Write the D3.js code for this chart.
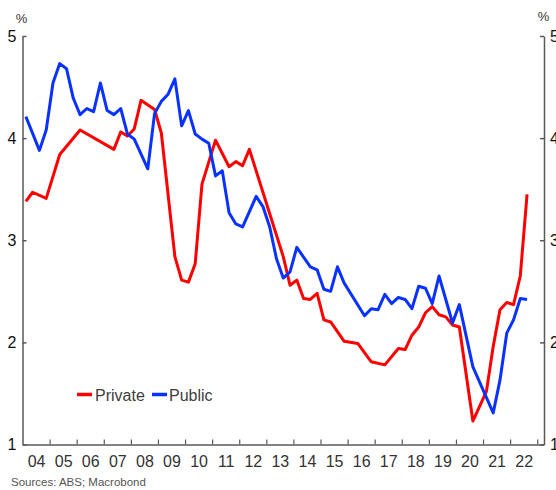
<!DOCTYPE html>
<html>
<head>
<meta charset="utf-8">
<script src="https://cdn.jsdelivr.net/npm/d3@7"></script>
<style>
  html, body { margin: 0; padding: 0; background: #fff; }
  svg { display: block; font-family: "Liberation Sans", Arial, sans-serif; }
</style>
</head>
<body>
<svg id="chart" width="556" height="490"></svg>
<script>
// ---- Data (quarterly, vertices) ----
const privateQuarters = ["2004Q1","2004Q2","2004Q4","2005Q2","2006Q1","2007Q2","2007Q3","2007Q4","2008Q1","2008Q2","2008Q4","2009Q1","2009Q3","2009Q4","2010Q1","2010Q2","2010Q3","2011Q1","2011Q3","2011Q4","2012Q1","2012Q2","2013Q3","2013Q4","2014Q1","2014Q2","2014Q3","2014Q4","2015Q1","2015Q2","2015Q4","2016Q2","2016Q4","2017Q2","2017Q4","2018Q1","2018Q2","2018Q3","2018Q4","2019Q1","2019Q2","2019Q3","2019Q4","2020Q1","2020Q3","2021Q1","2021Q2","2021Q3","2021Q4","2022Q1","2022Q2","2022Q3"];
const privateValues = [3.38,3.47,3.41,3.84,4.08,3.89,4.06,4.02,4.09,4.37,4.28,4.05,2.84,2.61,2.59,2.77,3.55,3.98,3.72,3.77,3.73,3.89,2.84,2.56,2.61,2.43,2.42,2.48,2.22,2.20,2.01,1.99,1.81,1.78,1.94,1.93,2.07,2.15,2.29,2.35,2.27,2.25,2.17,2.15,1.23,1.52,1.96,2.32,2.39,2.37,2.65,3.45];

const publicQuarters = ["2004Q1","2004Q3","2004Q4","2005Q1","2005Q2","2005Q3","2005Q4","2006Q1","2006Q2","2006Q3","2006Q4","2007Q1","2007Q2","2007Q3","2007Q4","2008Q1","2008Q3","2008Q4","2009Q1","2009Q2","2009Q3","2009Q4","2010Q1","2010Q2","2010Q3","2010Q4","2011Q1","2011Q2","2011Q3","2011Q4","2012Q1","2012Q3","2012Q4","2013Q1","2013Q2","2013Q3","2013Q4","2014Q1","2014Q3","2014Q4","2015Q1","2015Q2","2015Q3","2015Q4","2016Q3","2016Q4","2017Q1","2017Q2","2017Q3","2017Q4","2018Q1","2018Q2","2018Q3","2018Q4","2019Q1","2019Q2","2019Q4","2020Q1","2020Q3","2021Q2","2021Q3","2021Q4","2022Q1","2022Q2","2022Q3"];
const publicValues = [4.21,3.88,4.08,4.54,4.73,4.68,4.39,4.23,4.29,4.26,4.54,4.27,4.23,4.29,4.04,3.99,3.70,4.24,4.36,4.43,4.58,4.12,4.27,4.04,3.99,3.95,3.63,3.68,3.27,3.16,3.13,3.43,3.33,3.13,2.82,2.63,2.69,2.93,2.74,2.71,2.52,2.50,2.74,2.58,2.26,2.33,2.32,2.47,2.38,2.44,2.42,2.33,2.55,2.53,2.38,2.65,2.19,2.37,1.76,1.31,1.63,2.09,2.22,2.43,2.42];

const yTicks = [1, 2, 3, 4, 5];
const yearTickLabels = ["04","05","06","07","08","09","10","11","12","13","14","15","16","17","18","19","20","21","22"];
const seriesNames = ["Private", "Public"];
const seriesColors = ["#ff0000", "#0a32ff"];
const sourceText = "Sources: ABS; Macrobond";

// ---- helpers ----
function qToYear(q) {
  const yr = +q.slice(0, 4), n = +q.slice(5);
  return yr + (n - 1) * 0.25 + 0.125;
}
const privateData = privateQuarters.map((q, i) => ({ t: qToYear(q), v: privateValues[i] }));
const publicData = publicQuarters.map((q, i) => ({ t: qToYear(q), v: publicValues[i] }));

const svg = d3.select("#chart");
const x = d3.scaleLinear().domain([2004, 2023.25]).range([22.5, 544]);
const y = d3.scaleLinear().domain([1, 5]).range([444.5, 36]);
const axisColor = "#595959";

// Left axis
const gl = svg.append("g").attr("transform", `translate(${x.range()[0]},0)`)
  .call(d3.axisLeft(y).tickValues(yTicks).tickSize(-4).tickSizeOuter(0).tickPadding(6).tickFormat(d3.format("d")));
// Right axis
const gr = svg.append("g").attr("transform", `translate(${x.range()[1]},0)`)
  .call(d3.axisRight(y).tickValues(yTicks).tickSize(-4).tickSizeOuter(0).tickPadding(6).tickFormat(d3.format("d")));
[gl, gr].forEach(g => {
  g.select(".domain").attr("stroke", axisColor).attr("stroke-width", 1.5);
  g.selectAll(".tick line").attr("stroke", axisColor).attr("stroke-width", 1.5);
  g.selectAll(".tick text").attr("font-size", 16).attr("fill", "#111")
    .attr("font-family", "'Liberation Sans', Arial, sans-serif");
});

// X axis ticks (year boundaries)
const yearBounds = d3.range(2005, 2024);
const gx = svg.append("g").attr("transform", `translate(0,${y.range()[0]})`)
  .call(d3.axisBottom(x).tickValues(yearBounds).tickSize(-5).tickSizeOuter(0).tickFormat(""));
gx.select(".domain").attr("stroke", axisColor).attr("stroke-width", 1.5);
gx.selectAll(".tick line").attr("stroke", axisColor).attr("stroke-width", 1.2);

// X labels at mid-year
const labelPos = yearTickLabels.map((l, i) => 2004.5 + i);
const gxl = svg.append("g").attr("transform", `translate(0,${y.range()[0]})`)
  .call(d3.axisBottom(x).tickValues(labelPos).tickSize(0).tickPadding(11)
    .tickFormat((d, i) => yearTickLabels[i]));
gxl.select(".domain").remove();
gxl.selectAll(".tick text").attr("font-size", 16).attr("fill", "#333")
  .attr("font-family", "'Liberation Sans', Arial, sans-serif");

// % labels
svg.append("text").attr("x", 21.5).attr("y", 23).attr("text-anchor", "middle")
  .attr("font-size", 13).attr("fill", "#333").text("%");
svg.append("text").attr("x", 543.5).attr("y", 21).attr("text-anchor", "middle")
  .attr("font-size", 13).attr("fill", "#333").text("%");

// Lines
const line = d3.line().x(d => x(d.t)).y(d => y(d.v));
[privateData, publicData].forEach((data, i) => {
  svg.append("path").datum(data)
    .attr("fill", "none")
    .attr("stroke", seriesColors[i])
    .attr("stroke-width", 3)
    .attr("stroke-linejoin", "round")
    .attr("d", line);
});

// Legend
const legendItems = [{ x: 77, tx: 95 }, { x: 152, tx: 169 }];
seriesNames.forEach((name, i) => {
  const g = svg.append("g");
  g.append("line").attr("x1", legendItems[i].x).attr("x2", legendItems[i].x + 15)
    .attr("y1", 394.5).attr("y2", 394.5)
    .attr("stroke", seriesColors[i]).attr("stroke-width", 3.5);
  g.append("text").attr("x", legendItems[i].tx).attr("y", 400.5)
    .attr("font-size", 16).attr("fill", "#404040").text(name);
});

// Source
svg.append("text").attr("x", 11).attr("y", 486).attr("font-size", 11.5)
  .attr("fill", "#555").text(sourceText);
</script>
</body>
</html>
